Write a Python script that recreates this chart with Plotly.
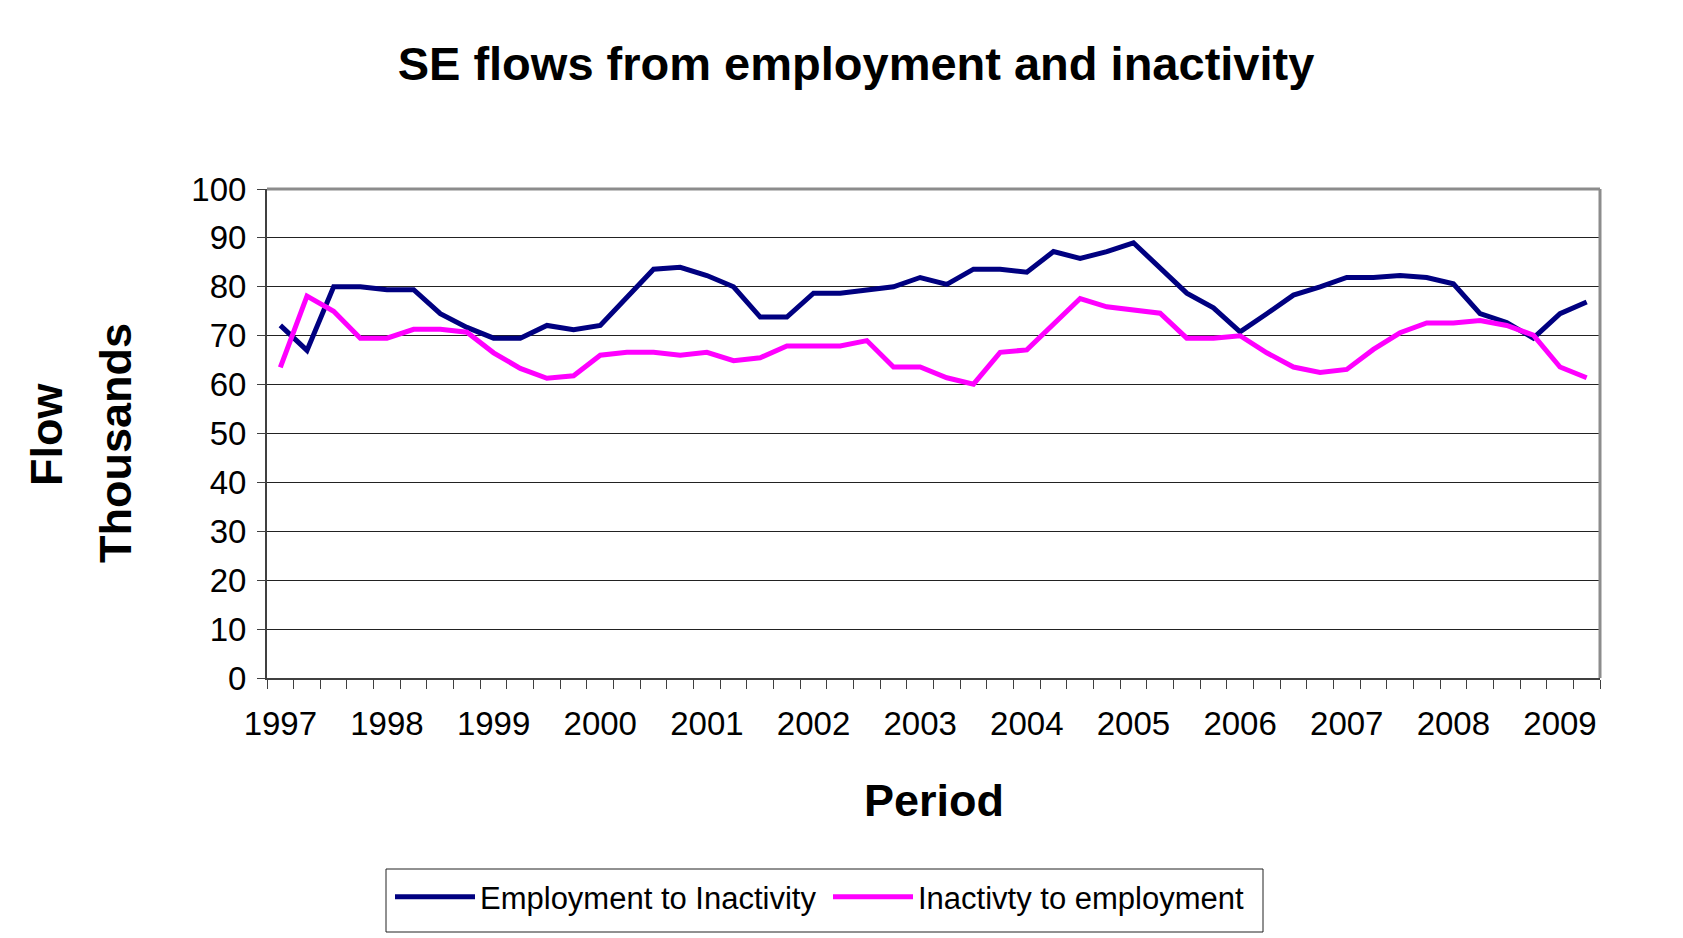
import plotly.graph_objects as go

# Quarterly series, 1997 Q1 to 2009 Q2 (thousands)
YEARS = list(range(1997, 2010))
EMP_TO_INACT = [
    72.1, 67.0, 80.0, 80.0, 79.4, 79.4, 74.5, 71.7, 69.5, 69.5,
    72.1, 71.2, 72.1, 77.8, 83.6, 84.0, 82.3, 80.0, 73.8, 73.8,
    78.7, 78.7, 79.3, 80.0, 81.9, 80.5, 83.6, 83.6, 83.0, 87.2,
    85.8, 87.2, 89.0, 83.7, 78.7, 75.7, 70.8, 74.5, 78.3, 80.0,
    81.9, 81.9, 82.3, 81.9, 80.6, 74.5, 72.7, 69.5, 74.5, 76.9,
]
INACT_TO_EMP = [
    63.5, 78.1, 75.0, 69.5, 69.5, 71.3, 71.3, 70.7, 66.5, 63.3,
    61.3, 61.8, 66.0, 66.6, 66.6, 66.0, 66.6, 64.9, 65.5, 67.9,
    67.9, 67.9, 69.0, 63.6, 63.6, 61.4, 60.1, 66.6, 67.1, 72.2,
    77.6, 75.9, 75.3, 74.6, 69.5, 69.5, 70.0, 66.5, 63.6, 62.5,
    63.1, 67.2, 70.6, 72.6, 72.6, 73.1, 72.1, 70.1, 63.6, 61.4,
]
SERIES_NAMES = ["Employment to Inactivity", "Inactivty to employment"]

W, H = 1683, 938
OFF = 8  # the page body margin shifts the figure by 8px
L, R, T, B = 267 - OFF, 1600 - OFF, 189 - OFF, 678 - OFF  # plot area in figure pixels
FONT = "Liberation Sans, Arial, sans-serif"


def px(x):
    # page pixel -> paper fraction
    return (x - OFF - L) / (R - L)


def py(y):
    return (B - (y - OFF)) / (B - T)


def main():
    n = len(EMP_TO_INACT)
    x = list(range(n))

    fig = go.Figure()
    fig.add_trace(go.Scatter(x=x, y=EMP_TO_INACT, name=SERIES_NAMES[0], mode="lines",
                             line=dict(color="#000080", width=5)))
    fig.add_trace(go.Scatter(x=x, y=INACT_TO_EMP, name=SERIES_NAMES[1], mode="lines",
                             line=dict(color="#FF00FF", width=5)))

    fig.update_xaxes(
        range=[-0.5, n - 0.5],
        tickvals=[4 * i for i in range(len(YEARS))],
        ticktext=[str(y) for y in YEARS],
        ticks="",
        ticklabelstandoff=15,
        tickfont=dict(size=33, color="black", family=FONT),
        minor=dict(ticks="outside", tick0=-0.5, dtick=1, ticklen=9,
                   tickcolor="#404040", tickwidth=1, showgrid=False),
        showgrid=False,
        zeroline=False,
        showline=True,
        linecolor="#404040",
        linewidth=2,
    )
    fig.update_yaxes(
        range=[0, 100],
        dtick=10,
        ticks="outside",
        ticklen=8,
        tickcolor="#404040",
        ticklabelstandoff=4,
        tickfont=dict(size=33, color="black", family=FONT),
        showgrid=True,
        gridcolor="#222222",
        gridwidth=1,
        zeroline=False,
        showline=True,
        linecolor="#404040",
        linewidth=2,
    )

    shapes = [
        # plot area border (top and right)
        dict(type="line", xref="paper", yref="paper", x0=0, x1=1, y0=1, y1=1,
             line=dict(color="#8c8c8c", width=3)),
        dict(type="line", xref="paper", yref="paper", x0=1, x1=1, y0=0, y1=1,
             line=dict(color="#8c8c8c", width=3)),
        # legend frame
        dict(type="rect", xref="paper", yref="paper", x0=px(386), x1=px(1263),
             y0=py(869), y1=py(932), line=dict(color="#222222", width=1),
             fillcolor="white", layer="below"),
    ]

    label_font = dict(size=45, family=FONT, color="black")
    annotations = [
        dict(x=px(46), y=py(435), xref="paper", yref="paper", text="<b>Flow</b>",
             textangle=-90, showarrow=False, xanchor="center", yanchor="middle",
             font=label_font),
        dict(x=px(115), y=py(443), xref="paper", yref="paper", text="<b>Thousands</b>",
             textangle=-90, showarrow=False, xanchor="center", yanchor="middle",
             font=label_font),
        dict(x=0.5, y=py(800), xref="paper", yref="paper", text="<b>Period</b>",
             showarrow=False, xanchor="center", yanchor="middle", font=label_font),
    ]

    fig.update_layout(
        width=W,
        height=H,
        margin=dict(l=L, r=W - R, t=T, b=H - B, pad=0),
        paper_bgcolor="white",
        plot_bgcolor="white",
        font=dict(family=FONT, color="black"),
        title=dict(text="<b>SE flows from employment and inactivity</b>",
                   x=(856 - OFF) / W, xref="container", xanchor="center",
                   y=1 - (64 - OFF) / H, yref="container", yanchor="middle",
                   font=dict(size=47, family=FONT, color="black")),
        showlegend=True,
        legend=dict(orientation="h", x=(390 - OFF) / W, xref="container", xanchor="left",
                    y=1 - (897 - OFF) / H, yref="container", yanchor="middle",
                    borderwidth=0, bgcolor="rgba(0,0,0,0)",
                    font=dict(size=31, family=FONT, color="black"),
                    itemwidth=80, entrywidth=343),
        shapes=shapes,
        annotations=annotations,
    )

    fig.write_html("out.html")


if __name__ == "__main__":
    main()
